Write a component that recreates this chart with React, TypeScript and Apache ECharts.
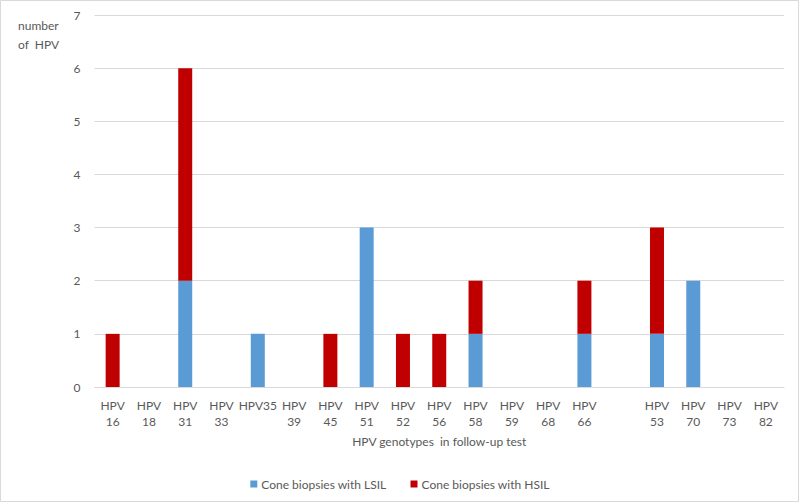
import React, { useEffect, useRef } from "react";
import * as echarts from "echarts";

const categories = [
  "HPV\n16", "HPV\n18", "HPV\n31", "HPV\n33", "HPV35", "HPV\n39", "HPV\n45", "HPV\n51",
  "HPV\n52", "HPV\n56", "HPV\n58", "HPV\n59", "HPV\n68", "HPV\n66", "", "HPV\n53",
  "HPV\n70", "HPV\n73", "HPV\n82",
];
const lsilValues = [0, 0, 2, 0, 1, 0, 0, 3, 0, 0, 1, 0, 0, 1, 0, 1, 2, 0, 0];
const hsilValues = [1, 0, 4, 0, 0, 0, 1, 0, 1, 1, 1, 0, 0, 1, 0, 2, 0, 0, 0];
const yTicks = { min: 0, max: 7, interval: 1 };

const FONT = "Lato, 'Open Sans', sans-serif";
const TXT = "#595959";

export default function App() {
  const ref = useRef<HTMLDivElement>(null);
  useEffect(() => {
    document.body.style.margin = "0";
    const chart = echarts.init(ref.current!, null, { renderer: "svg" });
    chart.setOption({
      animation: false,
      backgroundColor: "#ffffff",
      textStyle: { fontFamily: FONT },
      grid: { left: 94.5, right: 16, top: 15, bottom: 116, containLabel: false },
      legend: {
        top: 473,
        left: "center",
        itemWidth: 7,
        itemHeight: 7,
        itemGap: 24,
        icon: "rect",
        textStyle: { fontFamily: FONT, fontSize: 12, color: TXT, padding: [0, 0, 0, -1] },
        data: ["Cone biopsies with LSIL", "Cone biopsies with HSIL"],
      },
      graphic: [
        {
          type: "rect",
          shape: { x: 0.5, y: 0.5, width: 798, height: 501 },
          style: { fill: "none", stroke: "#d9d9d9", lineWidth: 1 },
          silent: true,
        },
        {
          type: "text",
          left: 18,
          top: 16,
          style: {
            text: "number\nof  HPV",
            font: `12px ${FONT}`,
            fill: TXT,
            lineHeight: 19,
          },
        },
      ],
      xAxis: {
        type: "category",
        data: categories,
        name: "HPV genotypes  in follow-up test",
        nameLocation: "middle",
        nameGap: 48,
        nameTextStyle: { fontFamily: FONT, fontSize: 12, color: TXT },
        axisLine: { show: true, lineStyle: { color: "#d9d9d9" } },
        axisTick: { show: false },
        axisLabel: {
          interval: 0,
          color: TXT,
          fontFamily: FONT,
          fontSize: 12,
          lineHeight: 16,
          margin: 10,
        },
      },
      yAxis: {
        type: "value",
        min: yTicks.min,
        max: yTicks.max,
        interval: yTicks.interval,
        axisLine: { show: false },
        axisTick: { show: false },
        axisLabel: { color: TXT, fontFamily: FONT, fontSize: 12, margin: 14 },
        splitLine: { lineStyle: { color: "#d9d9d9", width: 1 } },
      },
      series: [
        {
          name: "Cone biopsies with LSIL",
          type: "bar",
          stack: "total",
          data: lsilValues,
          barWidth: 14,
          itemStyle: { color: "#5b9bd5", borderWidth: 0 },
        },
        {
          name: "Cone biopsies with HSIL",
          type: "bar",
          stack: "total",
          data: hsilValues,
          barWidth: 14,
          itemStyle: { color: "#c00000", borderWidth: 0 },
        },
      ],
    });
    return () => chart.dispose();
  }, []);
  return <div ref={ref} style={{ width: 800, height: 503 }} />;
}
